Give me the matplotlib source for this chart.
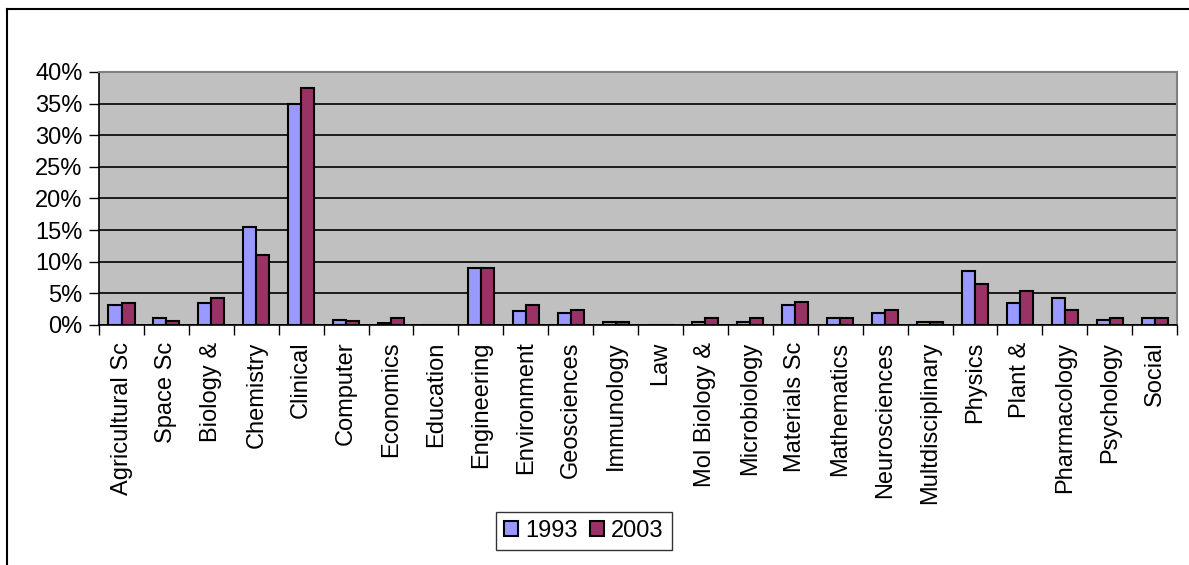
import numpy as np
import matplotlib.pyplot as plt
from matplotlib.lines import Line2D

plt.rcParams['font.family'] = ['Liberation Sans', 'DejaVu Sans']

# shares of output per field, 1993 vs 2003 (percent)
fields = ['Agricultural Sc', 'Space Sc', 'Biology &', 'Chemistry', 'Clinical',
          'Computer', 'Economics', 'Education', 'Engineering', 'Environment',
          'Geosciences', 'Immunology', 'Law', 'Mol Biology &', 'Microbiology',
          'Materials Sc', 'Mathematics', 'Neurosciences', 'Multdisciplinary',
          'Physics', 'Plant &', 'Pharmacology', 'Psychology', 'Social']
y1993 = [3.1, 1.1, 3.4, 15.5, 34.9, 0.8, 0.3, 0.0, 9.0, 2.2, 1.9, 0.5,
         0.0, 0.5, 0.5, 3.1, 1.1, 1.9, 0.5, 8.5, 3.4, 4.3, 0.8, 1.1]
y2003 = [3.4, 0.6, 4.3, 11.0, 37.4, 0.6, 1.1, 0.0, 9.0, 3.1, 2.3, 0.5,
         0.0, 1.1, 1.1, 3.6, 1.1, 2.3, 0.5, 6.5, 5.4, 2.3, 1.1, 1.1]
years = ['1993', '2003']
colors = ['#9999FF', '#993366']

fig = plt.figure(figsize=(11.89, 5.65), dpi=100)
ax = fig.add_axes([0.0833, 0.4248, 0.9067, 0.4478])
ax.set_facecolor('#C0C0C0')

x = np.arange(len(fields))
w = 0.29
ax.bar(x - w/2, y1993, w, color=colors[0], edgecolor='black', lw=1.5,
       label=years[0], zorder=3)
ax.bar(x + w/2, y2003, w, color=colors[1], edgecolor='black', lw=1.5,
       label=years[1], zorder=3)

ax.set_xlim(-0.5, len(fields) - 0.5)
ax.set_ylim(0, 40)
ax.set_yticks(np.arange(0, 41, 5))
ax.set_yticklabels(['%d%%' % v for v in range(0, 41, 5)], fontsize=17)
ax.yaxis.grid(True, color='black', lw=1.2, zorder=1)
ax.tick_params(axis='y', length=7, width=1, direction='out', pad=5)

# category labels at centres, tick marks at category boundaries
ax.set_xticks(x)
ax.set_xticklabels(fields, rotation=90, fontsize=17, va='top', ha='center')
ax.tick_params(axis='x', length=0, pad=12)
ax.set_xticks(np.arange(-0.5, len(fields), 1), minor=True)
ax.tick_params(axis='x', which='minor', length=7, width=1, direction='out')

for s in ['top', 'right']:
    ax.spines[s].set_color('#808080')
    ax.spines[s].set_linewidth(1.5)
for s in ['left', 'bottom']:
    ax.spines[s].set_color('black')
    ax.spines[s].set_linewidth(1.2)

leg = fig.legend(loc='center', bbox_to_anchor=(0.491, 0.060), ncol=2,
                 fontsize=17, frameon=True, fancybox=False, edgecolor='black',
                 handlelength=0.6, handleheight=0.6, handletextpad=0.3,
                 columnspacing=0.5, borderpad=0.35)
leg.get_frame().set_linewidth(1)

# chart border (left and top edges)
fig.add_artist(Line2D([0.0055, 0.0055], [0, 0.984], color='black', lw=1.5,
                      transform=fig.transFigure))
fig.add_artist(Line2D([0.0055, 1.0], [0.984, 0.984], color='black', lw=1.5,
                      transform=fig.transFigure))

fig.savefig('out.png', dpi=100)
